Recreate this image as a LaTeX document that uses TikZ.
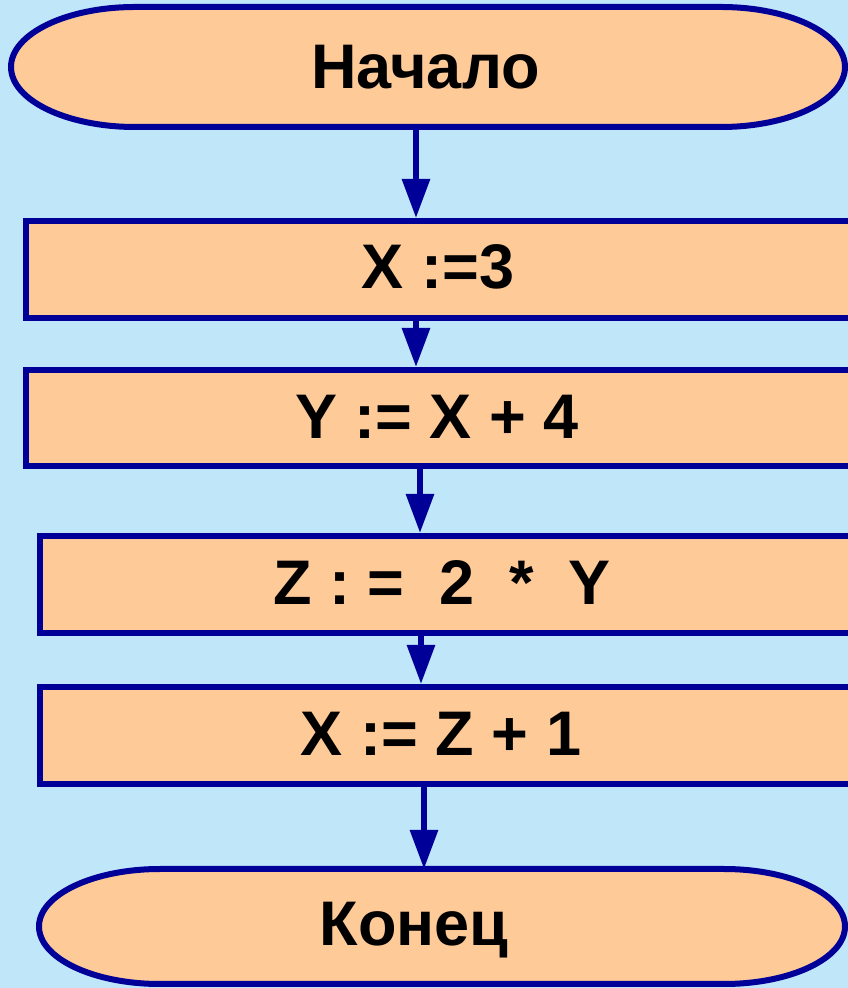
\documentclass[tikz,border=0pt]{standalone}
\usepackage{fontspec}
\setmainfont{Liberation Sans}
\usetikzlibrary{arrows.meta}
\definecolor{bgblue}{RGB}{192,230,250}
\definecolor{peach}{RGB}{254,202,152}
\definecolor{navy}{RGB}{0,0,153}
\tikzset{
  boxstyle/.style={draw=navy, fill=peach, line width=6pt, rectangle, inner sep=0pt},
  termnode/.style={rectangle, inner sep=0pt, outer sep=0pt},
  termshape/.style={draw=navy, fill=peach, line width=6pt},
  label text/.style={font=\bfseries\fontsize{63}{72}\selectfont, inner sep=0pt, anchor=base, text=black},
  arr/.style={draw=navy, line width=6pt, -{Triangle[length=39pt,width=27pt]}}
}
\begin{document}
\begin{tikzpicture}[x=1pt,y=1pt]
\fill[bgblue] (0,0) rectangle (848,988);
\useasboundingbox (0,0) rectangle (848,988);

% top terminator
\node[termnode, minimum width=834pt, minimum height=120pt] (T1) at (428,921) {};
\draw[termshape] ([xshift=124pt]T1.north west) -- ([xshift=-124pt]T1.north east)
  arc[start angle=90, end angle=-90, x radius=124pt, y radius=60pt]
  -- ([xshift=124pt]T1.south west)
  arc[start angle=270, end angle=90, x radius=124pt, y radius=60pt] -- cycle;

% process boxes
\node[boxstyle, minimum width=834pt, minimum height=97pt] (R1) at (443,718.5) {};
\node[boxstyle, minimum width=834pt, minimum height=96pt] (R2) at (443,570) {};
\node[boxstyle, minimum width=820pt, minimum height=97pt] (R3) at (450,403.5) {};
\node[boxstyle, minimum width=820pt, minimum height=97pt] (R4) at (450,252.5) {};

% bottom terminator
\node[termnode, minimum width=806pt, minimum height=115pt] (T2) at (442,61.5) {};
\draw[termshape] ([xshift=121pt]T2.north west) -- ([xshift=-121pt]T2.north east)
  arc[start angle=90, end angle=-90, x radius=121pt, y radius=57.5pt]
  -- ([xshift=121pt]T2.south west)
  arc[start angle=270, end angle=90, x radius=121pt, y radius=57.5pt] -- cycle;

% texts
\node[label text] (t0) at (425.5,899) {Начало};
\node[label text] (t1) at (438,699) {X :=3};
\node[label text] (t2) at (437,549) {Y := X + 4};
\node[label text] (t3) at (442,383.5) {Z : =\ \ 2\ \ *\ \ Y};
\node[label text] (t4) at (441,232.5) {X := Z + 1};
\node[label text] (t5) at (414,42) {Конец};

% connectors
\draw[arr] (T1.south -| 416,0) -- (R1.north -| 416,0);
\draw[arr] (R1.south -| 416,0) -- (R2.north -| 416,0);
\draw[arr] (R2.south -| 420,0) -- (R3.north -| 420,0);
\draw[arr] (R3.south -| 421,0) -- (R4.north -| 421,0);
\draw[arr] (R4.south -| 424,0) -- (T2.north -| 424,0);
\end{tikzpicture}
\end{document}
